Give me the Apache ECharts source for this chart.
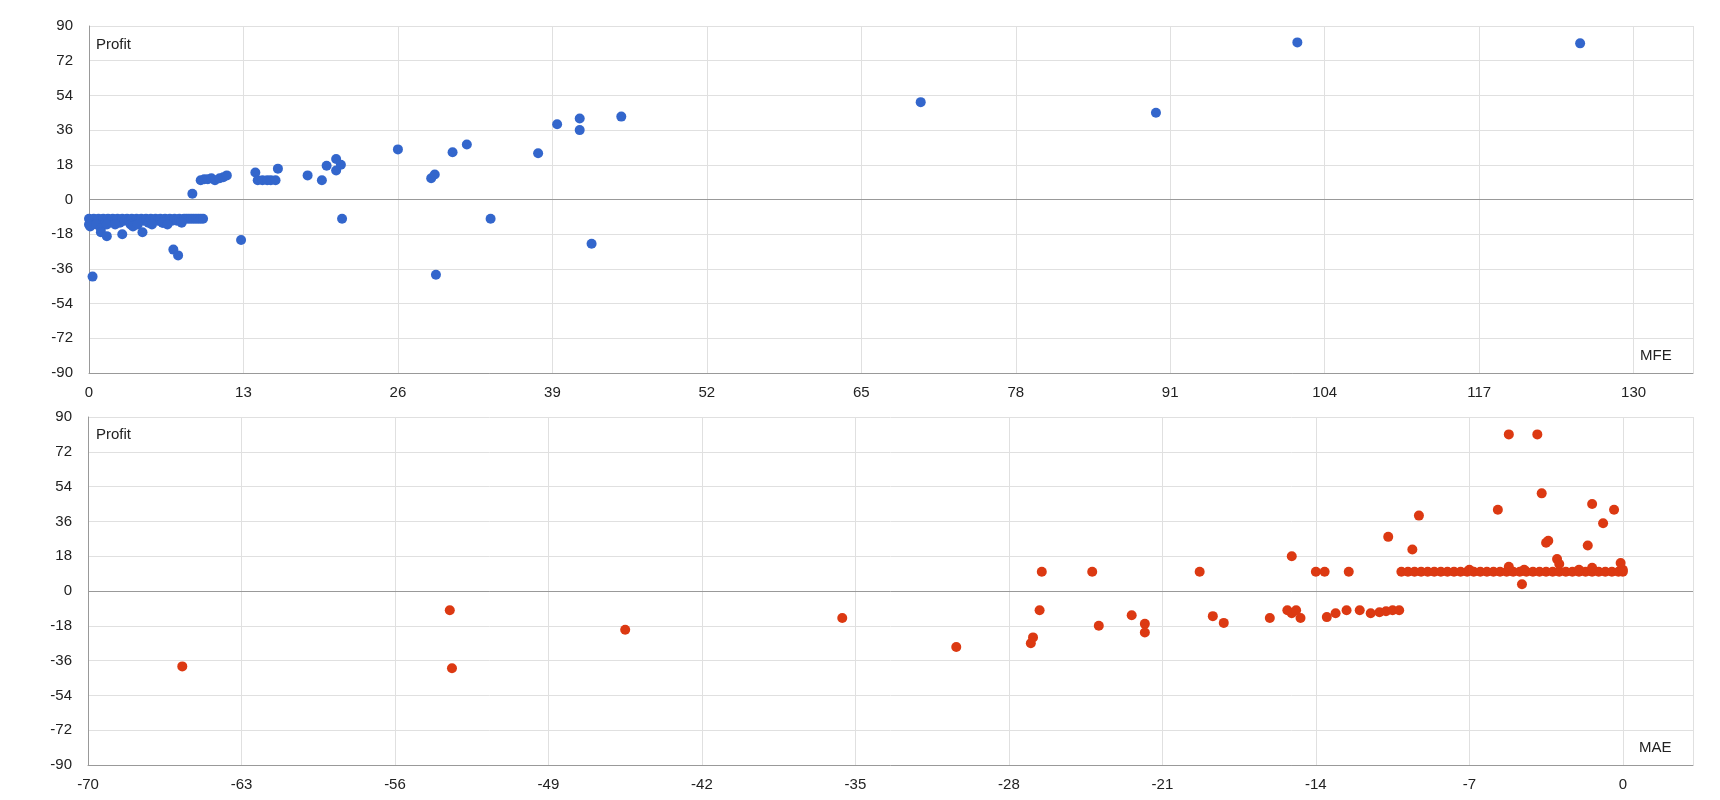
<!DOCTYPE html>
<html><head><meta charset="utf-8">
<script src="https://cdn.jsdelivr.net/npm/echarts@6/dist/echarts.min.js"></script>
<style>html,body{margin:0;padding:0;background:#fff}#c{width:1720px;height:800px}</style>
</head><body><div id="c"></div>
<script>
const yTicks = [-90,-72,-54,-36,-18,0,18,36,54,72,90];
const mfeLabel = "MFE", maeLabel = "MAE", yLabel = "Profit";
// MFE vs Profit
const mfeBand = [[0,-10],[0.2,-11],[0.4,-10],[0.6,-12],[0.8,-10],[1,-11],[1.2,-10],[1.4,-12],[1.6,-10],[1.8,-11],[2,-10],[2.2,-11],[2.4,-10],[2.6,-12],[2.8,-10],[3,-11],[3.2,-10],[3.4,-11],[3.6,-10],[3.8,-12],[4,-10],[4.2,-11],[4.4,-10],[4.6,-11],[4.8,-10],[5,-12],[5.2,-10],[5.4,-11],[5.6,-10],[5.8,-11],[6,-10],[6.2,-12],[6.4,-10],[6.6,-11],[6.8,-10],[7,-11],[7.2,-10],[7.4,-11],[7.6,-10],[7.8,-11],[8,-10],[8.2,-10],[8.4,-10],[8.6,-10],[8.8,-10],[9,-10],[9.2,-10],[9.4,-10],[9.6,-10],
 [0,-13],[0.1,-14],[0.6,-13],[1,-15],[1.5,-13],[2.2,-13],[3.5,-13],[3.7,-14],[4.1,-13],[5.3,-13],[6.2,-12],[6.6,-13],[7.8,-12]];
const mfeOther = [[0.3,-40],[1,-17],[1.5,-19],[2.8,-18],[4.5,-17],[7.1,-26],[7.5,-29],[8.7,3],[9.4,10],[9.7,10.5],[10,10.5],[10.3,11],[10.6,10],[11,11],[11.3,11.5],[11.6,12.5],[12.8,-21],[14,14],[14.2,10],[14.6,10],[15,10],[15.3,10],[15.7,10],[15.9,16],[18.4,12.5],[19.6,10],[20,17.5],[20.8,21],[20.8,15],[21.2,18],[21.3,-10],[26,26],[28.8,11],[29.1,13],[29.2,-39],[30.6,24.5],[31.8,28.5],[33.8,-10],[37.8,24],[39.4,39],[41.3,42],[41.3,36],[42.3,-23],[44.8,43],[70,50.5],[89.8,45],[101.7,81.5],[125.5,81]];
// MAE vs Profit
const maeBand = [[-10.1,10],[-9.8,10],[-9.5,10],[-9.2,10],[-8.9,10],[-8.6,10],[-8.3,10],[-8,10],[-7.7,10],[-7.4,10],[-7.1,10],[-6.8,10],[-6.5,10],[-6.2,10],[-5.9,10],[-5.6,10],[-5.3,10],[-5,10],[-4.7,10],[-4.4,10],[-4.1,10],[-3.8,10],[-3.5,10],[-3.2,10],[-2.9,10],[-2.6,10],[-2.3,10],[-2,10],[-1.7,10],[-1.4,10],[-1.1,10],[-0.8,10],[-0.5,10],[-0.2,10],[0,10],[0,11],[-2,11],[-4.5,11],[-7,11]];
const maeOther = [[-65.7,-39],[-53.5,-10],[-53.4,-40],[-45.5,-20],[-35.6,-14],[-30.4,-29],[-27,-27],[-26.9,-24],[-26.6,-10],[-26.5,10],[-24.2,10],[-23.9,-18],[-22.4,-12.5],[-21.8,-17],[-21.8,-21.5],[-19.3,10],[-18.7,-13],[-18.2,-16.5],[-16.1,-14],[-15.3,-10],[-15.1,18],[-15.1,-11.5],[-14.9,-10],[-14.7,-14],[-14,10],[-13.6,10],[-13.5,-13.5],[-13.1,-11.5],[-12.6,-10],[-12.5,10],[-12,-10],[-11.5,-11.5],[-11.1,-11],[-10.8,-10.5],[-10.5,-10],[-10.2,-10],[-10.7,28],[-9.6,21.5],[-9.3,39],[-5.7,42],[-5.2,81],[-3.9,81],[-3.7,50.5],[-4.6,3.5],[-5.2,12.5],[-3.5,25],[-3.4,26],[-3,16.5],[-2.9,14],[-1.6,23.5],[-1.4,45],[-0.9,35],[-0.4,42],[-0.1,14.5],[-1.4,12]];

const font = 'Liberation Sans';
const lbl = {color:'#222', fontFamily:font, fontSize:15};
function yAx(i){return {gridIndex:i,min:-90,max:90,interval:18,axisLabel:Object.assign({margin:16},lbl),
  axisLine:{show:true,onZero:false,lineStyle:{color:'#999'}},axisTick:{show:false},splitLine:{lineStyle:{color:'#e0e0e0'}}};}
const zero = {silent:true,symbol:'none',label:{show:false},lineStyle:{color:'#999',type:'solid',width:1},data:[{yAxis:0}]};
const chart = echarts.init(document.getElementById('c'));
chart.setOption({
  animation:false,
  grid:[{left:89,right:27,top:26,height:347},{left:88,right:27,top:417,height:348}],
  xAxis:[
    {gridIndex:0,min:0,max:135,interval:13,axisLabel:Object.assign({showMaxLabel:false,margin:12},lbl),
     axisLine:{onZero:false,lineStyle:{color:'#999'}},axisTick:{show:false},splitLine:{show:true,lineStyle:{color:'#e0e0e0'}}},
    {gridIndex:1,min:-70,max:3.2,interval:7,axisLabel:Object.assign({showMaxLabel:false,margin:12},lbl),
     axisLine:{onZero:false,lineStyle:{color:'#999'}},axisTick:{show:false},splitLine:{show:true,lineStyle:{color:'#e0e0e0'}}}
  ],
  yAxis:[yAx(0),yAx(1)],
  series:[
    {type:'scatter',xAxisIndex:0,yAxisIndex:0,symbolSize:10,itemStyle:{color:'#3366cc',opacity:1},data:mfeBand.concat(mfeOther),markLine:zero},
    {type:'scatter',xAxisIndex:1,yAxisIndex:1,symbolSize:10,itemStyle:{color:'#dc3912',opacity:1},data:maeBand.concat(maeOther),markLine:zero}
  ],
  graphic:[
    {type:'text',left:96,top:37,style:{text:yLabel,fill:'#222',font:'15px '+font}},
    {type:'text',left:96,top:427,style:{text:yLabel,fill:'#222',font:'15px '+font}},
    {type:'text',left:1640,top:348,style:{text:mfeLabel,fill:'#222',font:'15px '+font}},
    {type:'text',left:1639,top:740,style:{text:maeLabel,fill:'#222',font:'15px '+font}}
  ]
});
</script></body></html>
